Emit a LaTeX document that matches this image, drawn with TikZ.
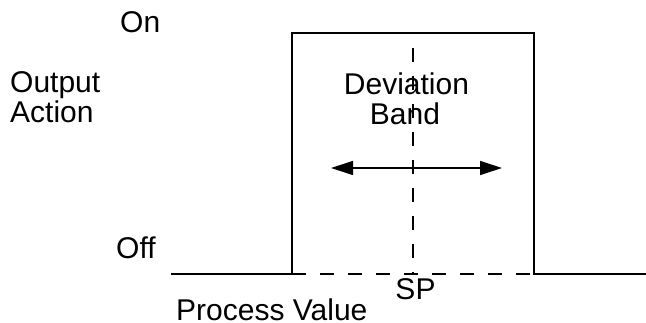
\documentclass[tikz,border=0pt]{standalone}
\usepackage{fontspec}
\setmainfont{Liberation Sans}
\usetikzlibrary{arrows.meta}
\begin{document}
\begin{tikzpicture}[x=1pt,y=-1pt,
  lbl/.style={inner sep=0pt,font=\fontsize{30}{31}\selectfont},
  trace/.style={line width=1.2pt,line join=miter},
  guide/.style={line width=1.2pt,dash pattern=on 14pt off 14pt},
  band/.style={line width=1.2pt,{Triangle[length=22pt,width=14pt]}-{Triangle[length=22pt,width=14pt]}}]
\useasboundingbox (0,0) rectangle (646,323);
% texts
\node[lbl,anchor=base west] (on) at (120,33) {On};
\node[lbl,anchor=base west] (out1) at (10,93) {Output};
\node[lbl,anchor=base west] (out2) at (10,123) {Action};
\node[lbl,anchor=base west] (off) at (116,259) {Off};
\node[lbl,anchor=base] (dev1) at (406.5,95) {Deviation};
\node[lbl,anchor=base] (dev2) at (405,125) {Band};
\node[lbl,anchor=base] (sp) at (415.5,300) {SP};
\node[lbl,anchor=base west] (pv) at (176,321) {Process Value};
% coordinates
\coordinate (l0) at (171,274);
\coordinate (l1) at (292,274);
\coordinate (t1) at (292,33);
\coordinate (t2) at (534,33);
\coordinate (r1) at (534,274);
\coordinate (r0) at (646,274);
\coordinate (v0) at (413,48);
\coordinate (v1) at (413,274);
\coordinate (a0) at (331,168);
\coordinate (a1) at (502,168);
% drawing
\draw[trace] (l0) -- (l1) -- (t1) -- (t2) -- (r1) -- (r0);
\draw[guide] (l1) -- (r1);
\draw[guide] (v0) -- (v1);
\draw[band] (a0) -- (a1);
\end{tikzpicture}
\end{document}
